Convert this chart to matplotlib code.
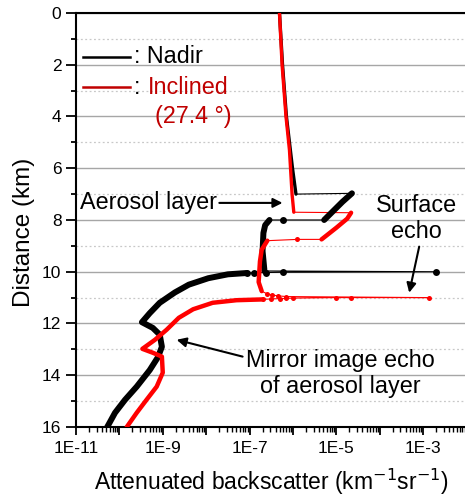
import numpy as np
import matplotlib
matplotlib.use("Agg")
import matplotlib.pyplot as plt
from matplotlib.ticker import LogLocator, NullFormatter, FixedLocator

plt.rcParams['font.family'] = ['Liberation Sans', 'DejaVu Sans']

# distance (km) and log10 of attenuated backscatter
# nadir profile, piece by piece
nadir_sky_km = [0.0, 2.0, 4.0, 6.0, 7.0]
nadir_sky_log = [-6.31, -6.24, -6.15, -6.01, -5.93]
nadir_layer_km = [6.97, 7.3, 7.65, 8.0]
nadir_layer_log = [-4.64, -4.86, -5.07, -5.28]
nadir_gap1_km = [8.0]
nadir_gap1_log = [-6.24]
nadir_below_km = [8.0, 8.2, 8.5, 9.2, 9.9, 9.97]
nadir_below_log = [-6.54, -6.64, -6.68, -6.70, -6.66, -6.66]
nadir_surf_km = [10.0, 10.02, 10.03, 10.04, 10.05]
nadir_surf_log = [-2.70, -6.24, -6.61, -6.89, -7.07]
nadir_ground_km = [10.05, 10.1, 10.25, 10.5, 10.8, 11.2, 11.6, 11.95,
                   12.17, 12.43, 12.9, 13.3, 13.8, 14.44, 14.95, 15.45, 16.0]
nadir_ground_log = [-7.07, -7.5, -7.95, -8.4, -8.72, -9.07, -9.30, -9.48,
                    -9.23, -9.07, -9.02, -9.11, -9.30, -9.60, -9.87, -10.10, -10.28]

# inclined profile (27.4 deg)
incl_sky_km = [0.0, 2.0, 4.0, 5.3, 7.0, 7.7]
incl_sky_log = [-6.31, -6.25, -6.16, -6.08, -6.02, -5.98]
incl_layer_km = [7.72, 7.95, 8.3, 8.75]
incl_layer_log = [-4.66, -4.75, -5.0, -5.34]
incl_gap1_km = [8.75]
incl_gap1_log = [-5.90]
incl_below_km = [8.8, 9.15, 9.6, 10.4, 10.75]
incl_below_log = [-6.59, -6.72, -6.76, -6.79, -6.72]
incl_surf_km = [10.85, 10.9, 10.93, 10.96, 11.0, 11.0, 11.0, 11.02, 11.03, 11.04, 11.05, 11.07]
incl_surf_log = [-6.60, -6.48, -6.35, -6.15, -2.86, -4.66, -5.0, -6.0, -6.15, -6.3, -6.5, -6.7]
incl_ground_km = [11.07, 11.1, 11.2, 11.45, 11.78, 12.24, 12.63, 12.98,
                  13.13, 13.28, 13.9, 14.44, 14.94, 15.45, 16.0]
incl_ground_log = [-6.7, -7.3, -7.85, -8.3, -8.63, -8.91, -9.18, -9.47,
                   -9.23, -9.02, -9.0, -9.14, -9.37, -9.60, -9.83]

xtick_vals = [1e-11, 1e-10, 1e-9, 1e-8, 1e-7, 1e-6, 1e-5, 1e-4, 1e-3, 1e-2]
xtick_labels = ['1E-11', '', '1E-9', '', '1E-7', '', '1E-5', '', '1E-3', '']


def to_bs(vals):
    return 10.0 ** np.asarray(vals)


fig = plt.figure(figsize=(4.65, 4.99), dpi=100)
ax = fig.add_axes([0.1634, 0.1443, 0.8398, 0.8297])


def draw_profile(pieces, color, thick, thin, ms):
    # thin line through every point, in order
    km = np.concatenate([p[0] for p in pieces])
    lg = np.concatenate([p[1] for p in pieces])
    ax.plot(to_bs(lg), km, color=color, lw=thin, zorder=3)
    for (pk, pl, kind) in pieces:
        if kind == 'dense':
            ax.plot(to_bs(pl), pk, color=color, lw=thick, solid_capstyle='round',
                    solid_joinstyle='round', zorder=4)
        elif kind == 'sky':
            ax.plot(to_bs(pl), pk, color=color, lw=2.4, solid_capstyle='round', zorder=4)
        else:
            ax.plot(to_bs(pl), pk, 'o', color=color, ms=ms, mew=0, zorder=4)


nadir = [(nadir_sky_km, nadir_sky_log, 'sky'),
         (nadir_layer_km, nadir_layer_log, 'dense'),
         (nadir_gap1_km, nadir_gap1_log, 'dots'),
         (nadir_below_km, nadir_below_log, 'dense'),
         (nadir_surf_km, nadir_surf_log, 'dots'),
         (nadir_ground_km, nadir_ground_log, 'dense')]
incl = [(incl_sky_km, incl_sky_log, 'sky'),
        (incl_layer_km, incl_layer_log, 'dense'),
        (incl_gap1_km, incl_gap1_log, 'dots'),
        (incl_below_km, incl_below_log, 'dense'),
        (incl_surf_km, incl_surf_log, 'dots'),
        (incl_ground_km, incl_ground_log, 'dense')]

draw_profile(nadir, 'black', 4.3, 0.8, 5.0)
draw_profile(incl, '#ff0000', 3.2, 0.8, 3.6)

ax.set_xscale('log')
ax.set_xlim(1e-11, 1e-2)
ax.set_ylim(16, 0)

ax.xaxis.set_minor_locator(LogLocator(base=10, subs=np.arange(2, 10), numticks=20))
ax.xaxis.set_minor_formatter(NullFormatter())
ax.set_xticks(xtick_vals)
ax.set_xticklabels(xtick_labels)

ax.set_yticks(np.arange(0, 17, 2))
ax.yaxis.set_minor_locator(FixedLocator(np.arange(1, 16, 2)))
ax.grid(True, which='major', axis='y', color='#a6a6a6', lw=1.0)
ax.grid(True, which='minor', axis='y', color='#c8c8c8', lw=0.9, ls=(0, (1.5, 2)))
ax.set_axisbelow(True)

ax.tick_params(axis='both', which='major', labelsize=12.5, direction='out', width=1.3)
ax.tick_params(axis='y', which='major', length=7)
ax.tick_params(axis='y', which='minor', length=3.5, width=1.3)
ax.tick_params(axis='x', which='major', length=6, pad=4)
ax.tick_params(axis='x', which='minor', length=3.5, width=1.0)
for s in ['left', 'bottom', 'top']:
    ax.spines[s].set_linewidth(1.5)
ax.spines['right'].set_visible(False)

ax.set_xlabel('Attenuated backscatter (km$^{-1}$sr$^{-1}$)', fontsize=16.5, labelpad=8)
ax.set_ylabel('Distance (km)', fontsize=17.5)
ax.yaxis.set_label_coords(-0.105, 0.469)

# hand-made legend
ax.plot([0.018, 0.138], [0.894, 0.894], color='black', lw=1.8, transform=ax.transAxes)
ax.plot([0.018, 0.138], [0.821, 0.821], color='#c00000', lw=1.8, transform=ax.transAxes)
ax.text(0.148, 0.894, ': Nadir', transform=ax.transAxes, fontsize=16.8, va='center')
ax.text(0.148, 0.821, ': ', transform=ax.transAxes, fontsize=16.8, va='center')
ax.text(0.185, 0.821, 'Inclined', transform=ax.transAxes, fontsize=16.8,
        va='center', color='#c00000')
ax.text(0.202, 0.749, '(27.4 °)', transform=ax.transAxes, fontsize=16.8,
        va='center', color='#c00000')

arrow = dict(arrowstyle='-|>', color='black', lw=1.5, mutation_scale=14,
             shrinkA=0, shrinkB=0)
ax.annotate('Aerosol layer', xy=(10 ** -6.24, 7.34), xytext=(10 ** -7.76, 7.34),
            fontsize=16.8, ha='right', va='center', arrowprops=arrow)
ax.text(10 ** -3.16, 7.95, 'Surface\necho', fontsize=16.8, ha='center', va='center',
        linespacing=1.2)
ax.annotate('', xy=(10 ** -3.32, 10.81), xytext=(10 ** -3.09, 9.03), arrowprops=arrow)
ax.text(10 ** -4.91, 13.94, 'Mirror image echo\nof aerosol layer', fontsize=16.8,
        ha='center', va='center', linespacing=1.2)
ax.annotate('', xy=(10 ** -8.68, 12.63), xytext=(10 ** -7.16, 13.28), arrowprops=arrow)

fig.savefig('out.png', dpi=100)
